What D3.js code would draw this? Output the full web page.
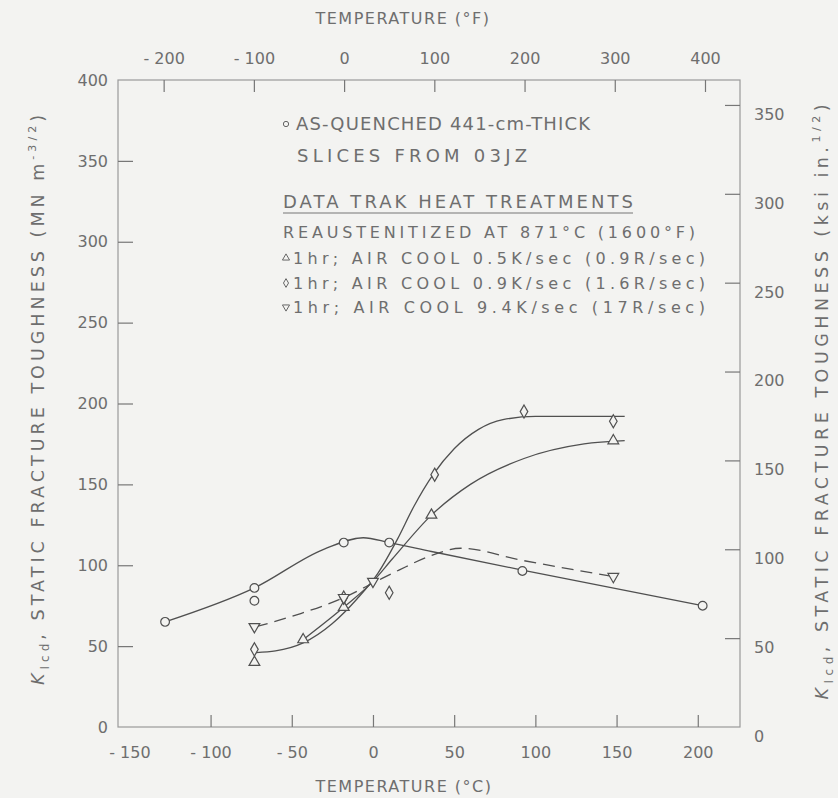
<!DOCTYPE html>
<html lang="en">
  <head>
    <meta charset="UTF-8" />
    <title>Static fracture toughness vs temperature</title>
    <script src="https://d3js.org/d3.v7.min.js"></script>
    <style>
      body {
        margin: 0;
        background: #f3f3f1;
      }
      svg {
        display: block;
        background: #f3f3f1;
      }
      text {
        font-family: 'DejaVu Sans', sans-serif;
        fill: #6e6e6e;
      }
      .tick text {
        font-size: 16px;
      }
    </style>
  </head>
  <body>
    <svg width="838" height="798"></svg>

    <script>
      // As-quenched slices, open circles (°C, MN m^-3/2)
      const quenchedPts = [
        [-128, 65], [-73, 86], [-73, 78], [-18, 114], [10, 114], [92, 96.5], [203, 75],
      ];
      const quenchedCurve = [
        [-128, 65], [-73, 86], [-30, 110], [-6, 117], [10, 114], [36, 108.5], [92, 97], [203, 75],
      ];

      // 0.5 K/sec air cool, triangles
      const slowPts = [[-73, 40], [-43, 54], [-18, 74], [36, 131], [148, 177]];
      const slowCurve = [
        [-43, 54], [-18, 74], [0, 90], [12, 104], [36, 131], [60, 150], [93, 166], [130, 175], [155, 177],
      ];

      // 0.9 K/sec air cool, diamonds
      const midPts = [[-73, 48], [-18, 80], [10, 83], [38, 156], [93, 195], [148, 189]];
      const midCurve = [
        [-72, 46], [-60, 47], [-43, 52], [-25, 64], [-10, 79], [3, 95], [15, 116], [25, 136],
        [37, 156], [50, 172], [65, 184], [80, 190], [100, 192], [155, 192],
      ];

      // 9.4 K/sec air cool, inverted triangles, dashed
      const fastPts = [[-73, 62], [-18, 80], [0, 90], [148, 93]];
      const fastCurve = [
        [-72, 62], [-45, 70], [-18, 80], [0, 89], [16, 97], [36, 106], [54, 110.5], [92, 103], [148, 93],
      ];

      const cTicks = [-150, -100, -50, 0, 50, 100, 150, 200];
      const fTicks = [-200, -100, 0, 100, 200, 300, 400];
      const mpaTicks = [0, 50, 100, 150, 200, 250, 300, 350, 400];
      const ksiTicks = [0, 50, 100, 150, 200, 250, 300, 350];

      const legendLines = [
        { sym: 'circle', text: 'AS-QUENCHED 441-cm-THICK' },
        { sym: null, text: 'SLICES FROM 03JZ' },
        { sym: null, text: 'DATA TRAK HEAT TREATMENTS', underline: true },
        { sym: null, text: 'REAUSTENITIZED AT 871°C (1600°F)' },
        { sym: 'up', text: '1hr; AIR COOL 0.5K/sec (0.9R/sec)' },
        { sym: 'diamond', text: '1hr; AIR COOL 0.9K/sec (1.6R/sec)' },
        { sym: 'down', text: '1hr; AIR COOL 9.4K/sec (17R/sec)' },
      ];

      const svg = d3.select('svg');
      const pLeft = 118, pRight = 740, pTop = 80, pBottom = 727;
      const ink = '#505050';
      const fmt = (d) => (d < 0 ? '- ' + Math.abs(d) : String(d));

      const x = d3.scaleLinear().domain([-157, 226]).range([pLeft, pRight]);
      const xF = d3.scaleLinear()
        .domain([-157 * 1.8 + 32, 226 * 1.8 + 32])
        .range([pLeft, pRight]);
      const y = d3.scaleLinear().domain([0, 400]).range([pBottom, pTop]);
      const yK = d3.scaleLinear().domain([0, 400 / 1.0988]).range([pBottom, pTop]);

      // frame
      svg.append('rect')
        .attr('x', pLeft).attr('y', pTop)
        .attr('width', pRight - pLeft).attr('height', pBottom - pTop)
        .attr('fill', 'none').attr('stroke', '#9a9a9a').attr('stroke-width', 1.2);

      function styleAxis(g) {
        g.select('.domain').remove();
        g.selectAll('.tick line').attr('stroke', '#777').attr('stroke-width', 1.2);
      }

      svg.append('g')
        .attr('transform', `translate(0,${pBottom})`)
        .call(d3.axisBottom(x).tickValues(cTicks).tickFormat(fmt).tickSize(-12).tickPadding(20))
        .call(styleAxis)
        .call((g) => g.selectAll('.tick').filter((d) => d === -150).select('line').remove());

      svg.append('g')
        .attr('transform', `translate(0,${pTop})`)
        .call(d3.axisTop(xF).tickValues(fTicks).tickFormat(fmt).tickSize(-12).tickPadding(16))
        .call(styleAxis);

      svg.append('g')
        .attr('transform', `translate(${pLeft},0)`)
        .call(d3.axisLeft(y).tickValues(mpaTicks).tickSize(-15).tickPadding(10))
        .call(styleAxis)
        .call((g) => g.selectAll('.tick').filter((d) => d === 0 || d === 400).select('line').remove());

      svg.append('g')
        .attr('transform', `translate(${pRight},0)`)
        .call(d3.axisRight(yK).tickValues(ksiTicks).tickSize(-15).tickPadding(14))
        .call(styleAxis)
        .call((g) => g.selectAll('.tick text').attr('dy', '0.9em'))
        .call((g) => g.selectAll('.tick').filter((d) => d === 0).select('line').remove());

      // axis titles
      svg.append('text')
        .attr('x', 403).attr('y', 24)
        .attr('text-anchor', 'middle').attr('font-size', 16)
        .attr('letter-spacing', 1.5)
        .text('TEMPERATURE (°F)');

      svg.append('text')
        .attr('x', 404).attr('y', 792)
        .attr('text-anchor', 'middle').attr('font-size', 16)
        .attr('letter-spacing', 1.5)
        .text('TEMPERATURE (°C)');

      function yTitle(cx, cy, len, units, exp) {
        const t = svg.append('text')
          .attr('transform', `translate(${cx},${cy}) rotate(-90)`)
          .attr('text-anchor', 'middle').attr('font-size', 17.5)
          .attr('textLength', len)
          .attr('lengthAdjust', 'spacing');
        t.append('tspan').attr('font-style', 'italic').text('K');
        t.append('tspan').attr('font-size', 12).attr('dy', 5).text('Icd');
        t.append('tspan').attr('dy', -5).text(', STATIC FRACTURE TOUGHNESS (' + units);
        t.append('tspan').attr('font-size', 11).attr('dy', -8).text(exp);
        t.append('tspan').attr('dy', 8).text(')');
      }
      yTitle(44, 400, 570, 'MN m', '-3/2');
      yTitle(828, 402, 595, 'ksi in.', '1/2');

      // curves
      const line = d3.line()
        .x((d) => x(d[0]))
        .y((d) => y(d[1]))
        .curve(d3.curveMonotoneX);

      const curves = [
        { data: quenchedCurve, dash: null },
        { data: slowCurve, dash: null },
        { data: midCurve, dash: null },
        { data: fastCurve, dash: '12,7' },
      ];
      svg.selectAll('path.curve')
        .data(curves)
        .join('path')
        .attr('class', 'curve')
        .attr('d', (d) => line(d.data))
        .attr('fill', 'none')
        .attr('stroke', ink)
        .attr('stroke-width', 1.3)
        .attr('stroke-dasharray', (d) => d.dash);

      // markers
      const symbols = {
        circle: { type: d3.symbolCircle, size: 60, rot: 0 },
        up: { type: d3.symbolTriangle, size: 50, rot: 0 },
        diamond: { type: d3.symbolDiamond, size: 50, rot: 0 },
        down: { type: d3.symbolTriangle, size: 50, rot: 180 },
      };

      function drawMarkers(pts, key) {
        const s = symbols[key];
        svg.append('g')
          .selectAll('path')
          .data(pts)
          .join('path')
          .attr('d', d3.symbol().type(s.type).size(s.size))
          .attr('transform', (d) => `translate(${x(d[0])},${y(d[1])}) rotate(${s.rot})`)
          .attr('fill', '#f3f3f1')
          .attr('stroke', ink)
          .attr('stroke-width', 1.2);
      }
      drawMarkers(quenchedPts, 'circle');
      drawMarkers(slowPts, 'up');
      drawMarkers(midPts, 'diamond');
      drawMarkers(fastPts, 'down');

      // legend
      const legX = 283;
      const legY = [130, 162, 208, 238, 264, 289, 313];
      const legW = [294, 230, 350, 412, 412, 412, 412];
      const legTx = [296, 297, 283, 283, 293, 293, 293];

      legendLines.forEach((l, i) => {
        svg.append('text')
          .attr('x', legTx[i]).attr('y', legY[i])
          .attr('font-size', i < 3 ? 18 : 16)
          .attr('textLength', legW[i])
          .attr('lengthAdjust', 'spacing')
          .text(l.text);
        if (l.underline) {
          svg.append('line')
            .attr('x1', legX).attr('x2', legX + legW[i])
            .attr('y1', legY[i] + 5).attr('y2', legY[i] + 5)
            .attr('stroke', '#777').attr('stroke-width', 1.2);
        }
        if (l.sym) {
          const s = symbols[l.sym];
          svg.append('path')
            .attr('d', d3.symbol().type(s.type).size(22))
            .attr('transform', `translate(${legX + 3},${legY[i] - 6}) rotate(${s.rot})`)
            .attr('fill', 'none')
            .attr('stroke', '#666')
            .attr('stroke-width', 1);
        }
      });
    </script>
  </body>
</html>
